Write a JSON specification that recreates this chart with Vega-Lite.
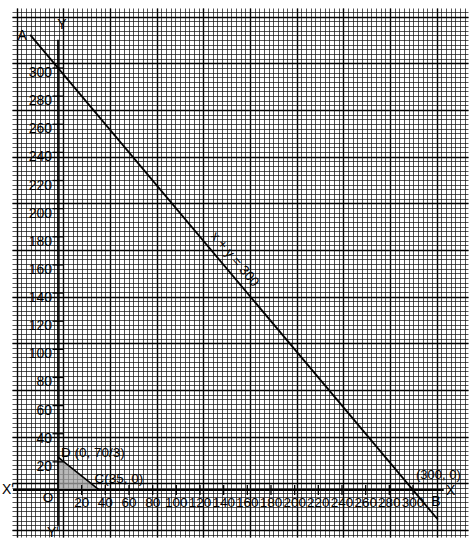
{
  "$schema": "https://vega.github.io/schema/vega-lite/v6.json",
  "width": 456,
  "height": 529,
  "autosize": {"type": "none"},
  "padding": {"left": 12, "top": 8, "right": 5, "bottom": 8},
  "background": "white",
  "datasets": {
    "paper": [{"gx": 50, "gy": 50}],
    "paperMajor": [{"gx": 5, "gy": 5}],
    "xaxis": [{"x": -38, "x2": 326, "y": 0}],
    "yaxis": [{"x": 0, "y": -26, "y2": 320}],
    "xticks": [
      {"x": 20, "y": 0}, {"x": 40, "y": 0}, {"x": 60, "y": 0}, {"x": 80, "y": 0}, {"x": 100, "y": 0},
      {"x": 120, "y": 0}, {"x": 140, "y": 0}, {"x": 160, "y": 0}, {"x": 180, "y": 0}, {"x": 200, "y": 0},
      {"x": 220, "y": 0}, {"x": 240, "y": 0}, {"x": 260, "y": 0}, {"x": 280, "y": 0}, {"x": 300, "y": 0}
    ],
    "yticks": [
      {"x": 0, "y": 20}, {"x": 0, "y": 40}, {"x": 0, "y": 60}, {"x": 0, "y": 80}, {"x": 0, "y": 100},
      {"x": 0, "y": 120}, {"x": 0, "y": 140}, {"x": 0, "y": 160}, {"x": 0, "y": 180}, {"x": 0, "y": 200},
      {"x": 0, "y": 220}, {"x": 0, "y": 240}, {"x": 0, "y": 260}, {"x": 0, "y": 280}, {"x": 0, "y": 300}
    ],
    "line": [{"x": -23.5, "y": 323.5}, {"x": 321, "y": -21}],
    "region": [{"x": 0, "y": 23.33}, {"x": 35, "y": 0}],
    "notes": [
      {"key": "A", "x": -23.5, "y": 323.5, "text": "A"},
      {"key": "B", "x": 321, "y": -21, "text": "B"},
      {"key": "P", "x": 300, "y": 0, "text": "(300, 0)"},
      {"key": "X", "x": 326, "y": 0, "text": "X"},
      {"key": "X1", "x": -38, "y": 0, "text": "X'"},
      {"key": "Y", "x": 0, "y": 320, "text": "Y"},
      {"key": "Y1", "x": 0, "y": -26, "text": "Y'"},
      {"key": "O", "x": 0, "y": 0, "text": "O"},
      {"key": "D", "x": 0, "y": 23.33, "text": "D (0, 70/3)"},
      {"key": "C", "x": 35, "y": 0, "text": "C(35, 0)"},
      {"key": "L", "x": 141.5, "y": 158.5, "text": "x + y = 300"}
    ]
  },
  "layer": [
    {
      "data": {"name": "paper"},
      "mark": {"type": "point", "opacity": 0},
      "encoding": {
        "x": {
          "field": "gx", "type": "quantitative",
          "scale": {"domain": [9.014, 106.72], "nice": false, "zero": false},
          "axis": {"grid": true, "labels": false, "ticks": false, "domain": false, "title": null,
                   "tickCount": 98, "gridColor": "#111111", "gridWidth": 0.8, "gridOpacity": 0.9}
        },
        "y": {
          "field": "gy", "type": "quantitative",
          "scale": {"domain": [8.5, 121.85], "nice": false, "zero": false},
          "axis": {"grid": true, "labels": false, "ticks": false, "domain": false, "title": null,
                   "tickCount": 113, "gridColor": "#111111", "gridWidth": 0.8, "gridOpacity": 0.9}
        }
      }
    },
    {
      "data": {"name": "paperMajor"},
      "mark": {"type": "point", "opacity": 0},
      "encoding": {
        "x": {
          "field": "gx", "type": "quantitative",
          "scale": {"domain": [0.9014, 10.672], "nice": false, "zero": false},
          "axis": {"grid": true, "labels": false, "ticks": false, "domain": false, "title": null,
                   "tickCount": 10, "gridColor": "#000000", "gridWidth": 1.4}
        },
        "y": {
          "field": "gy", "type": "quantitative",
          "scale": {"domain": [0.85, 12.185], "nice": false, "zero": false},
          "axis": {"grid": true, "labels": false, "ticks": false, "domain": false, "title": null,
                   "tickCount": 11, "gridColor": "#000000", "gridWidth": 1.4}
        }
      }
    },
    {
      "encoding": {
        "x": {"field": "x", "type": "quantitative",
              "scale": {"domain": [-38.87, 346.49], "nice": false, "zero": false}, "axis": null},
        "y": {"field": "y", "type": "quantitative",
              "scale": {"domain": [-33.41, 342.65], "nice": false, "zero": false}, "axis": null}
      },
      "resolve": {"scale": {"x": "shared", "y": "shared"}},
      "layer": [
        {
          "data": {"name": "region"},
          "mark": {"type": "area", "color": "#a3a3a3", "opacity": 0.75},
          "encoding": {}
        },
        {
          "data": {"name": "region"},
          "mark": {"type": "line", "color": "#000000", "strokeWidth": 1.6},
          "encoding": {}
        },
        {
          "data": {"name": "xaxis"},
          "mark": {"type": "rule", "color": "#000000", "strokeWidth": 1.8},
          "encoding": {"x2": {"field": "x2"}}
        },
        {
          "data": {"name": "yaxis"},
          "mark": {"type": "rule", "color": "#000000", "strokeWidth": 1.8},
          "encoding": {"y2": {"field": "y2"}}
        },
        {
          "data": {"name": "xticks"},
          "mark": {"type": "tick", "orient": "vertical", "color": "#000000", "size": 10, "thickness": 1.3, "opacity": 1},
          "encoding": {}
        },
        {
          "data": {"name": "yticks"},
          "mark": {"type": "tick", "orient": "horizontal", "color": "#000000", "size": 11, "thickness": 1.3, "opacity": 1},
          "encoding": {}
        },
        {
          "data": {"name": "xticks"},
          "mark": {"type": "text", "align": "center", "baseline": "middle", "dy": 13, "fontSize": 13.5},
          "encoding": {"text": {"field": "x", "type": "quantitative"}}
        },
        {
          "data": {"name": "yticks"},
          "mark": {"type": "text", "align": "right", "baseline": "middle", "dx": -6, "dy": 5, "fontSize": 14},
          "encoding": {"text": {"field": "y", "type": "quantitative"}}
        },
        {
          "data": {"name": "line"},
          "mark": {"type": "line", "color": "#000000", "strokeWidth": 1.8},
          "encoding": {}
        },
        {
          "data": {"name": "notes"},
          "transform": [{"filter": "datum.key === 'A'"}],
          "mark": {"type": "text", "align": "center", "baseline": "middle", "dx": -8, "dy": 1, "fontSize": 14},
          "encoding": {"text": {"field": "text"}}
        },
        {
          "data": {"name": "notes"},
          "transform": [{"filter": "datum.key === 'B'"}],
          "mark": {"type": "text", "align": "center", "baseline": "middle", "dx": -2, "dy": -18, "fontSize": 14},
          "encoding": {"text": {"field": "text"}}
        },
        {
          "data": {"name": "notes"},
          "transform": [{"filter": "datum.key === 'P'"}],
          "mark": {"type": "text", "align": "left", "baseline": "middle", "dx": 3, "dy": -15, "fontSize": 13},
          "encoding": {"text": {"field": "text"}}
        },
        {
          "data": {"name": "notes"},
          "transform": [{"filter": "datum.key === 'X'"}],
          "mark": {"type": "text", "align": "center", "baseline": "middle", "dx": 7, "dy": 1, "fontSize": 14},
          "encoding": {"text": {"field": "text"}}
        },
        {
          "data": {"name": "notes"},
          "transform": [{"filter": "datum.key === 'X1'"}],
          "mark": {"type": "text", "align": "center", "baseline": "middle", "dx": -5, "dy": 0, "fontSize": 14},
          "encoding": {"text": {"field": "text"}}
        },
        {
          "data": {"name": "notes"},
          "transform": [{"filter": "datum.key === 'Y'"}],
          "mark": {"type": "text", "align": "center", "baseline": "middle", "dx": 4, "dy": -15, "fontSize": 14},
          "encoding": {"text": {"field": "text"}}
        },
        {
          "data": {"name": "notes"},
          "transform": [{"filter": "datum.key === 'Y1'"}],
          "mark": {"type": "text", "align": "center", "baseline": "middle", "dx": -5, "dy": 6, "fontSize": 14},
          "encoding": {"text": {"field": "text"}}
        },
        {
          "data": {"name": "notes"},
          "transform": [{"filter": "datum.key === 'O'"}],
          "mark": {"type": "text", "align": "center", "baseline": "middle", "dx": -10, "dy": 8, "fontSize": 13.5},
          "encoding": {"text": {"field": "text"}}
        },
        {
          "data": {"name": "notes"},
          "transform": [{"filter": "datum.key === 'D'"}],
          "mark": {"type": "text", "align": "left", "baseline": "middle", "dx": 3, "dy": -4, "fontSize": 13.5},
          "encoding": {"text": {"field": "text"}}
        },
        {
          "data": {"name": "notes"},
          "transform": [{"filter": "datum.key === 'C'"}],
          "mark": {"type": "text", "align": "left", "baseline": "middle", "dx": -5, "dy": -11, "fontSize": 13.5},
          "encoding": {"text": {"field": "text"}}
        },
        {
          "data": {"name": "notes"},
          "transform": [{"filter": "datum.key === 'L'"}],
          "mark": {"type": "text", "align": "center", "baseline": "middle", "angle": 50, "dy": -12, "fontSize": 13.5},
          "encoding": {"text": {"field": "text"}}
        }
      ]
    }
  ],
  "resolve": {
    "scale": {"x": "independent", "y": "independent"},
    "axis": {"x": "independent", "y": "independent"}
  },
  "config": {
    "view": {"stroke": null},
    "text": {"font": "Liberation Sans", "color": "#000000"}
  }
}
